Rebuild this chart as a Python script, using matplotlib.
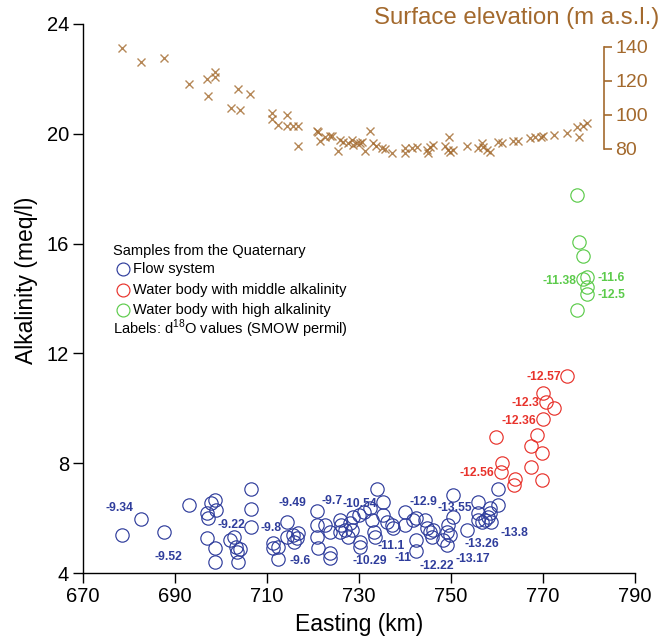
import matplotlib
matplotlib.use("Agg")
import matplotlib.pyplot as plt

plt.rcParams['font.family'] = ['Liberation Sans', 'DejaVu Sans']

# ---------------- data ----------------
blue_e = [678.4, 682.6, 687.7, 693.0, 697.8, 698.8, 698.9, 696.9, 697.2, 696.9, 698.8, 698.8, 706.5, 706.5,
          706.5, 702.0, 702.9, 703.2, 704.1, 703.4, 703.8, 711.4, 712.5, 711.4, 712.5, 714.3, 714.3,
          715.7, 716.5, 716.8, 715.9, 720.8, 720.8, 720.8, 721.2, 723.7, 723.7, 722.6, 723.7, 725.9, 726.2,
          725.9, 727.0, 728.0, 728.4, 727.7, 728.8, 730.1, 730.2, 730.2, 731.1, 732.4, 732.8, 733.3, 733.5,
          734.0, 735.3, 735.3, 736.0, 737.1, 737.5, 740.0, 740.0, 741.8, 742.5, 742.5, 742.5, 744.3, 744.7,
          745.4, 745.8, 746.2, 748.3, 749.1, 749.1, 749.4, 749.8, 750.4, 750.4, 753.4, 755.9, 755.9, 755.9,
          756.7, 757.4, 758.1, 758.5, 758.5, 758.8, 760.3, 760.3]
blue_a = [5.38, 5.98, 5.49, 6.48, 6.56, 6.66, 6.30, 6.20, 5.99, 5.29, 4.90, 4.39, 7.05, 6.32,
          5.66, 5.20, 5.32, 4.94, 4.87, 4.78, 4.39, 5.10, 4.94, 4.90, 4.50, 5.87, 5.32,
          5.38, 5.26, 5.45, 5.14, 6.26, 5.75, 5.32, 4.90, 4.74, 4.54, 5.75, 5.50, 5.93, 5.75,
          5.50, 5.57, 5.81, 5.57, 5.32, 6.05, 6.11, 5.14, 4.96, 6.23, 6.36, 5.93, 5.50, 5.32,
          7.06, 6.60, 6.11, 5.87, 5.75, 5.63, 6.23, 5.75, 5.93, 5.99, 5.20, 4.81, 5.93, 5.63,
          5.50, 5.32, 5.57, 5.20, 5.02, 5.50, 5.75, 5.38, 6.05, 6.84, 5.57, 6.60, 6.17, 5.93,
          5.87, 5.93, 6.05, 6.36, 6.17, 5.87, 7.06, 6.48]

red_e = [775.3, 770.1, 770.7, 772.5, 770.1, 768.8, 759.9, 767.3, 769.9, 761.0, 760.9, 767.3, 763.9, 763.7, 769.9]
red_a = [11.18, 10.57, 10.24, 10.02, 9.60, 9.03, 8.97, 8.63, 8.38, 8.00, 7.69, 7.85, 7.41, 7.21, 7.39]

green_e = [777.3, 777.8, 778.8, 779.5, 778.8, 779.5, 779.5, 777.3]
green_a = [17.77, 16.06, 15.56, 14.79, 14.70, 14.41, 14.16, 13.58]

elev_e = [678.4, 682.6, 687.7, 693.0, 696.9, 698.7, 698.7, 697.2, 703.8, 706.4, 702.1, 704.1, 711.2, 711.2,
          712.5, 714.4, 714.4, 715.6, 716.8, 716.8, 720.8, 721.2, 721.5, 722.6, 723.7, 724.1, 725.9, 726.6,
          725.5, 727.7, 728.4, 728.8, 729.5, 730.2, 730.6, 731.3, 732.5, 733.1, 733.8, 734.9, 735.7, 737.1,
          740.0, 740.0, 741.5, 742.7, 744.7, 745.1, 745.4, 746.2, 748.7, 749.4, 749.8, 750.5, 749.6, 753.4,
          755.9, 756.7, 757.0, 757.8, 758.5, 760.3, 761.0, 763.5, 764.6, 767.2, 768.3, 769.5, 770.1, 772.4,
          775.3, 777.3, 777.9, 778.8, 779.5]
elev_m = [139.4, 131.2, 133.2, 118.1, 121.1, 125.3, 122.1, 111.1, 115.0, 112.1, 103.9, 102.9, 101.0, 97.4,
          94.1, 99.9, 93.5, 93.5, 93.5, 81.8, 90.7, 90.1, 84.7, 86.9, 87.6, 87.6, 85.3, 84.3,
          79.0, 83.3, 85.3, 82.3, 83.3, 83.3, 84.3, 79.0, 90.7, 83.3, 81.8, 80.4, 79.8, 77.8,
          80.4, 77.5, 80.4, 81.0, 79.4, 77.5, 81.3, 82.3, 81.8, 79.4, 78.4, 79.4, 86.9, 81.8,
          80.4, 83.3, 81.3, 79.4, 78.4, 84.3, 83.7, 84.7, 84.7, 86.6, 87.2, 86.9, 87.6, 88.2,
          89.6, 92.7, 87.2, 93.5, 95.1]

blue_lab_txt = ['-9.34', '-9.52', '-9.22', '-9.8', '-9.49', '-9.7', '-10.54', '-12.9', '-13.55',
                '-9.6', '-10.29', '-11.1', '-11', '-12.22', '-13.17', '-13.26', '-13.8']
blue_lab_e = [677.9, 688.6, 702.2, 710.8, 715.6, 724.1, 730.2, 744.0, 750.9,
              717.3, 732.4, 737.1, 739.6, 746.9, 754.8, 756.7, 763.9]
blue_lab_a = [6.38, 4.59, 5.75, 5.65, 6.54, 6.62, 6.50, 6.60, 6.38,
              4.45, 4.45, 4.98, 4.56, 4.27, 4.50, 5.06, 5.45]

red_lab_txt = ['-12.57', '-12.3', '-12.36', '-12.56']
red_lab_e = [770.1, 766.1, 764.8, 755.7]
red_lab_a = [11.13, 10.20, 9.55, 7.63]

green_lab_txt = ['-11.38', '-11.6', '-12.5']
green_lab_e = [773.7, 784.8, 784.8]
green_lab_a = [14.64, 14.74, 14.13]

x_ticks = [670, 690, 710, 730, 750, 770, 790]
y_ticks = [4, 8, 12, 16, 20, 24]
elev_ticks = [80, 100, 120, 140]

legend_title = 'Samples from the Quaternary'
legend_names = ['Flow system', 'Water body with middle alkalinity', 'Water body with high alkalinity']
legend_note = r'Labels: d$^{\mathregular{18}}$O values (SMOW permil)'

# ---------------- style ----------------
C_BLUE = '#2f3d9c'
C_RED = '#e8322b'
C_GREEN = '#5ccb4b'
C_BROWN = '#a3692d'

fig = plt.figure(figsize=(6.65, 6.41), dpi=100)
ax = fig.add_axes([0.1248, 0.106, 0.830, 0.8566])

mk = dict(marker='o', linestyle='none', markerfacecolor='none', markersize=9.6, markeredgewidth=0.85)
ax.plot(blue_e, blue_a, markeredgecolor=C_BLUE, **mk)
ax.plot(red_e, red_a, markeredgecolor=C_RED, **mk)
ax.plot(green_e, green_a, markeredgecolor=C_GREEN, **mk)

lab_kw = dict(ha='center', va='center', fontsize=8.7, fontweight='bold')
for t, e, a in zip(blue_lab_txt, blue_lab_e, blue_lab_a):
    ax.text(e, a, t, color=C_BLUE, **lab_kw)
for t, e, a in zip(red_lab_txt, red_lab_e, red_lab_a):
    ax.text(e, a, t, color=C_RED, **lab_kw)
for t, e, a in zip(green_lab_txt, green_lab_e, green_lab_a):
    ax.text(e, a, t, color=C_GREEN, **lab_kw)

ax.set_xlim(670, 790)
ax.set_ylim(4, 24)
ax.set_xticks(x_ticks)
ax.set_yticks(y_ticks)
ax.tick_params(axis='both', direction='out', length=7, width=1, labelsize=14.5, pad=3)
for s in ['top', 'right']:
    ax.spines[s].set_visible(False)
for s in ['left', 'bottom']:
    ax.spines[s].set_linewidth(1.0)

ax.set_xlabel('Easting (km)', fontsize=16.5)
ax.xaxis.set_label_coords(0.5, -0.072)
ax.set_ylabel('Alkalinity (meq/l)', fontsize=16.5)
ax.yaxis.set_label_coords(-0.082, 0.534)

# legend drawn as texts
tx0 = 0.0543
ax.text(tx0, 0.587, legend_title, transform=ax.transAxes, fontsize=10.5, ha='left', va='center')
for (name, col), yy in zip(zip(legend_names, [C_BLUE, C_RED, C_GREEN]), [0.554, 0.5155, 0.479]):
    ax.plot([0.0725], [yy], transform=ax.transAxes, marker='o', markerfacecolor='none',
            markeredgecolor=col, markersize=9.3, markeredgewidth=0.85, clip_on=False)
    ax.text(0.0906, yy, name, transform=ax.transAxes, fontsize=10.5, ha='left', va='center')
ax.text(tx0, 0.444, legend_note, transform=ax.transAxes, fontsize=10.5, ha='left', va='center')

# secondary axis: surface elevation
ax2 = ax.twinx()
ax2.set_ylim(-168.7, 153.3)
ax2.plot(elev_e, elev_m, linestyle='none', marker='x', color=C_BROWN, markersize=5.2,
         markeredgewidth=1.0, alpha=0.8)
for s in ['top', 'left', 'bottom']:
    ax2.spines[s].set_visible(False)
ax2.spines['right'].set_position(('axes', 0.9438))
ax2.spines['right'].set_bounds(80, 140)
ax2.spines['right'].set_color(C_BROWN)
ax2.spines['right'].set_linewidth(1.2)
ax2.set_yticks(elev_ticks)
ax2.tick_params(axis='y', colors=C_BROWN, labelcolor=C_BROWN, direction='out', length=6, width=1.2,
                labelsize=14, pad=2)
fig.text(0.992, 0.972, 'Surface elevation (m a.s.l.)', color=C_BROWN, fontsize=17.3, ha='right', va='center')

fig.savefig('out.png', dpi=100)
